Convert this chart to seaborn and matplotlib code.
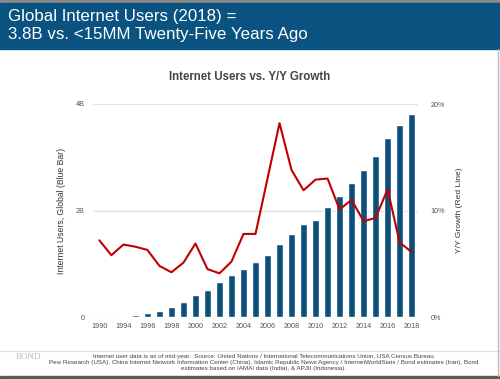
import numpy as np
import matplotlib
matplotlib.use("Agg")
import matplotlib.pyplot as plt
import seaborn as sns
from matplotlib.patches import Rectangle
from matplotlib.lines import Line2D

# chart data
years = ['1990', '1993', '1994', '1995', '1996', '1997', '1998', '1999', '2000',
         '2001', '2002', '2003', '2004', '2005', '2006', '2007', '2008', '2009',
         '2010', '2011', '2012', '2013', '2014', '2015', '2016', '2017', '2018']
users_b = [0.003, 0.014, 0.025, 0.045, 0.077, 0.12, 0.19, 0.28, 0.41,
           0.50, 0.66, 0.78, 0.91, 1.03, 1.17, 1.37, 1.56, 1.74,
           1.82, 2.07, 2.28, 2.52, 2.76, 3.02, 3.37, 3.61, 3.82]
growth_pct = [7.2, 5.8, 6.8, 6.6, 6.3, 4.8, 4.2, 5.1, 6.9,
              4.5, 4.1, 5.2, 7.8, 7.8, 13.0, 18.2, 13.8, 11.9,
              12.9, 13.0, 10.1, 11.0, 9.0, 9.3, 12.0, 7.0, 6.1]
left_ticks = [0, 2, 4]
left_labels = ['0', '2B', '4B']
right_ticks = [0, 10, 20]
right_labels = ['0%', '10%', '20%']

footer = ("Internet user data is as of mid-year.  Source: United Nations / International Telecommunications Union, USA Census Bureau.\n"
          "Pew Research (USA), China Internet Network Information Center (China), Islamic Republic News Agency / InternetWorldStats / Bond estimates (Iran), Bond\n"
          "estimates based on IAMAI data (India), & APJII (Indonesia).")

BLUE = '#0b4f7a'
RED = '#c00000'
TXT = '#555555'

sns.set_style('white')
plt.rcParams['font.family'] = ['Liberation Sans', 'DejaVu Sans']

W, H = 500, 379
fig = plt.figure(figsize=(W / 100, H / 100), dpi=100)

# slide frame: header band, top strip, bottom strip, right edge
fig.patches.append(Rectangle((0, 1 - 3 / H), 1, 3 / H, transform=fig.transFigure,
                             color='#8a8a8a', zorder=0))
fig.patches.append(Rectangle((0, 1 - 49 / H), 1, 46 / H, transform=fig.transFigure,
                             color='#0a527f', zorder=0))
fig.patches.append(Rectangle((0, 0), 1, 3.5 / H, transform=fig.transFigure,
                             color='#5a5a5a', zorder=0))
fig.lines.append(Line2D([0, 1], [1 - 350.5 / H] * 2, transform=fig.transFigure,
                        color='#dddddd', lw=0.8))
fig.lines.append(Line2D([1 - 2 / W] * 2, [3.5 / H, 1 - 49 / H], transform=fig.transFigure,
                        color='#bbbbbb', lw=1))

fig.text(8 / W, 1 - 17 / H, 'Global Internet Users (2018) =', color='white',
         fontsize=12.2, va='center', ha='left')
fig.text(8 / W, 1 - 35 / H, '3.8B vs. <15MM Twenty-Five Years Ago', color='white',
         fontsize=12.2, va='center', ha='left')

fig.text(250 / W, 1 - 77 / H, 'Internet Users vs. Y/Y Growth', color='#444444',
         fontsize=8.3, fontweight='bold', ha='center', va='center')

ax = fig.add_axes([93 / W, 1 - 317 / H, 325 / W, 213 / H])
sns.barplot(x=years, y=users_b, color=BLUE, width=0.55, saturation=1, ax=ax, zorder=2)
ax.set_ylim(0, 4)
ax.set_xlim(-0.53, len(years) - 0.47)
ax.set_yticks(left_ticks)
ax.set_yticklabels(left_labels)
ax.set_xticks(range(0, len(years), 2))
ax.set_xticklabels(years[::2])
ax.grid(axis='y', color='#e2e2e2', lw=1, zorder=0)
ax.set_axisbelow(True)
ax.tick_params(axis='both', length=0, labelsize=5.2, labelcolor=TXT)
ax.tick_params(axis='y', pad=6)
ax.tick_params(axis='x', pad=4)
ax.set_ylabel('Internet Users, Global (Blue Bar)', fontsize=6.2, color='#333333', labelpad=7)
sns.despine(ax=ax, left=True, bottom=True)

ax2 = ax.twinx()
sns.lineplot(x=np.arange(len(years)), y=growth_pct, color=RED, lw=1.5, ax=ax2, zorder=3)
ax2.set_ylim(0, 20)
ax2.set_yticks(right_ticks)
ax2.set_yticklabels(right_labels)
ax2.tick_params(axis='y', length=0, labelsize=5.2, labelcolor=TXT, pad=9)
ax2.set_ylabel('Y/Y Growth (Red Line)', fontsize=6.1, color='#333333', labelpad=8)
for s in ax2.spines.values():
    s.set_visible(False)
ax2.grid(False)

fig.text(28 / W, 1 - 357 / H, 'BOND', family='Liberation Serif', fontsize=6.5,
         color='#bbbbbb', ha='center', va='center')
fig.text(264 / W, 1 - 362.5 / H, footer, fontsize=4.5, color='#444444', ha='center',
         va='center', linespacing=1.2)

fig.savefig('out.png', dpi=100)
